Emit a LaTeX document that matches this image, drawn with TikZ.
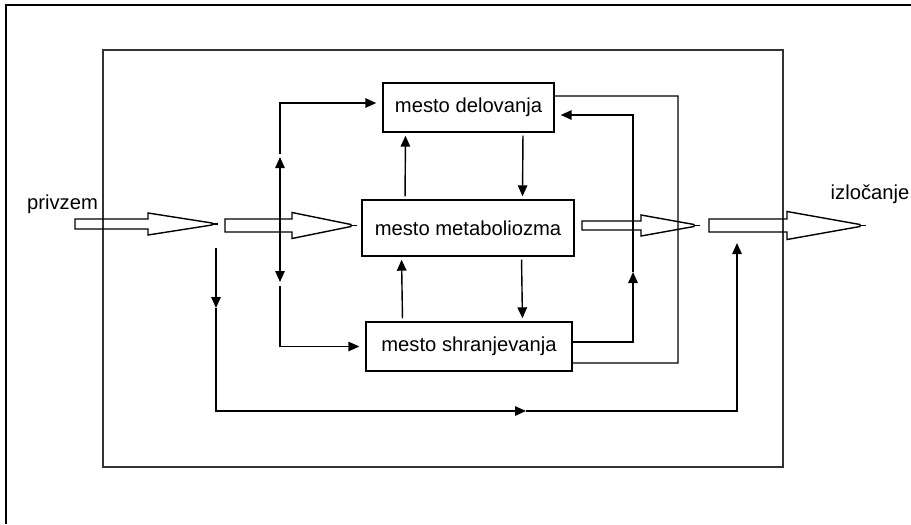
\documentclass[tikz,border=0pt]{standalone}
\usepackage{fontspec}
\setmainfont{Liberation Sans}
\usetikzlibrary{arrows.meta, positioning}

\tikzset{
  mesto/.style={draw, line width=0.8pt, inner sep=0pt, font=\fontsize{11.5}{13.8}\selectfont},
  oznaka/.style={inner sep=0pt, anchor=base, font=\fontsize{11.5}{13.8}\selectfont},
  arr/.style={-{Triangle[length=2.2mm,width=1.9mm]}},
  gap/.style={shorten <=0.06cm, shorten >=0.06cm},
}

\begin{document}
\begin{tikzpicture}[x=0.02cm, y=-0.02cm, line width=0.8pt]
\useasboundingbox (0,0) rectangle (911,524);
% okvir
\draw[line width=1.6pt] (6,524) -- (6,5) -- (911,5);
\draw[black!80] (103,50) rectangle (783,467);

% mesta
\node[mesto, minimum width=3.42cm, minimum height=0.98cm] (del) at (468.5,107.5) {mesto delovanja};
\node[mesto, minimum width=4.24cm, minimum height=1.12cm] (met) at (468,228) {mesto metaboliozma};
\node[mesto, minimum width=4.12cm, minimum height=0.98cm] (shr) at (469,346.5) {mesto shranjevanja};

\node[oznaka] (privzem) at (62.5,209) {privzem};
\node[oznaka] (izlocanje) at (870,199) {izločanje};

% debele puscice
\foreach \xa/\xb/\xc/\yc/\ws/\wh in {75/148/218/224/5/11, 225/292/357/225.5/6.5/13, 582/641/700/225.5/4.5/10.5, 709/787/866/225.5/6.5/14}{
  \draw (\xa,\yc-\ws) -- (\xb,\yc-\ws) -- (\xb,\yc-\wh) -- (\xc-6,\yc-1) -- (\xc-6,\yc+1)
        -- (\xb,\yc+\wh) -- (\xb,\yc+\ws) -- (\xa,\yc+\ws) -- cycle;
  \draw (\xc-6,\yc) -- (\xc,\yc);
}

% med mesti
\draw[arr, gap] ([xshift=-1.26cm]met.north) -- ([xshift=-1.26cm]del.south);
\draw[arr, gap] ([xshift=1.09cm]del.south) -- ([xshift=1.09cm]met.north);
\draw[arr, gap] ([xshift=-1.33cm]shr.north) -- ([xshift=-1.33cm]met.south);
\draw[arr, gap] ([xshift=1.07cm]met.south) -- ([xshift=1.07cm]shr.north);

% levo
\coordinate (lu) at (280,154);
\coordinate (lt) at (280,157);
\coordinate (lb) at (280,282);
\coordinate (ld) at (280,286);
\draw[{Triangle[length=2.2mm,width=1.9mm]}-{Triangle[length=2.2mm,width=1.9mm]}] (lt) -- (lb);
\draw[arr, shorten >=0.12cm] (lu) |- ([yshift=0.09cm]del.west);
\draw[arr, shorten >=0.12cm] (ld) |- (shr.west);

% desno
\coordinate (rb) at (678,363);
\coordinate (rm) at (633,272);
\draw ([yshift=0.23cm]del.east) -| (rb) -- ([yshift=-0.33cm]shr.east);
\draw[arr] ([yshift=0.09cm]shr.east) -| (rm);
\draw[arr, shorten >=0.12cm] (rm) |- ([yshift=-0.15cm]del.east);

% spodaj
\coordinate (bt) at (216,248);
\coordinate (bm1) at (216,308);
\coordinate (bl) at (216,411);
\coordinate (bm2) at (526,411);
\coordinate (br) at (737,411);
\coordinate (be) at (737,243);
\draw[arr] (bt) -- (bm1);
\draw[arr] (bm1) -- (bl) -- (bm2);
\draw[arr] (bm2) -- (br) -- (be);
\end{tikzpicture}
\end{document}
